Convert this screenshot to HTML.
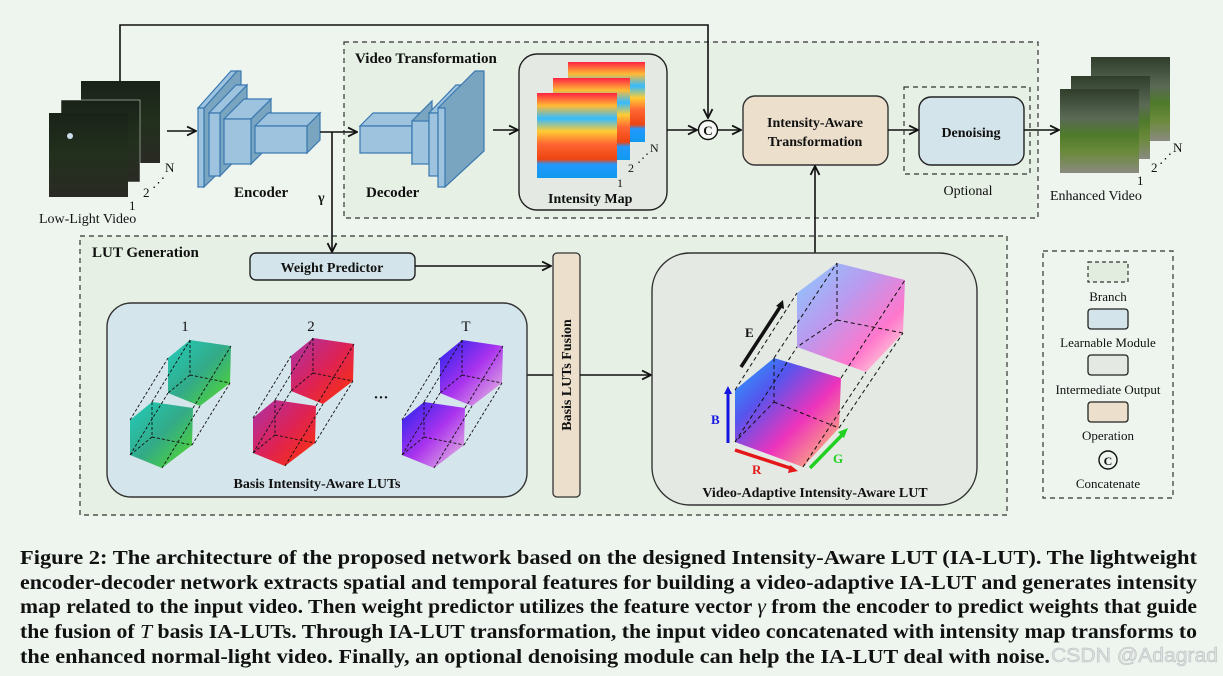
<!DOCTYPE html>
<html><head><meta charset="utf-8"><style>
html,body{margin:0;padding:0;background:#eef5ef;}
svg{display:block;}
.b{font-family:"Liberation Serif",serif;font-weight:bold;fill:#111;}
.r{font-family:"Liberation Serif",serif;fill:#111;}
</style></head><body>
<svg width="1223" height="676" viewBox="0 0 1223 676" xmlns="http://www.w3.org/2000/svg">
<defs>
<marker id="ar" viewBox="0 0 10 10" refX="9" refY="5" markerWidth="7" markerHeight="7" orient="auto"><path d="M1,1 L9,5 L1,9" fill="none" stroke="#111" stroke-width="1.6"/></marker>
<linearGradient id="heat" x1="0" y1="0" x2="0" y2="1">
<stop offset="0" stop-color="#f24"/><stop offset="0.15" stop-color="#fb3"/><stop offset="0.3" stop-color="#3bf"/><stop offset="0.45" stop-color="#fc3"/><stop offset="0.6" stop-color="#f63"/><stop offset="0.78" stop-color="#e41"/><stop offset="0.84" stop-color="#29f"/><stop offset="1" stop-color="#19e"/></linearGradient>
<linearGradient id="dark" x1="0" y1="0" x2="0" y2="1"><stop offset="0" stop-color="#1a2218"/><stop offset="0.5" stop-color="#22301d"/><stop offset="1" stop-color="#2a2a24"/></linearGradient>
<linearGradient id="light" x1="0" y1="0" x2="0" y2="1"><stop offset="0" stop-color="#2f3d2a"/><stop offset="0.35" stop-color="#5a6a55"/><stop offset="0.55" stop-color="#4f7a2a"/><stop offset="0.75" stop-color="#6a8a3a"/><stop offset="1" stop-color="#8a8a80"/></linearGradient>
<linearGradient id="g1" x1="0" y1="0" x2="1" y2="1"><stop offset="0" stop-color="#2cb"/><stop offset="0.5" stop-color="#3a8"/><stop offset="1" stop-color="#5d2"/></linearGradient>
<linearGradient id="g2" x1="0" y1="0" x2="1" y2="1"><stop offset="0" stop-color="#a3a"/><stop offset="0.5" stop-color="#d25"/><stop offset="1" stop-color="#f30"/></linearGradient>
<linearGradient id="g3" x1="0" y1="0" x2="1" y2="1"><stop offset="0" stop-color="#22e"/><stop offset="0.5" stop-color="#a3e"/><stop offset="1" stop-color="#ecd"/></linearGradient>
<linearGradient id="g4" x1="0" y1="0" x2="1" y2="1"><stop offset="0" stop-color="#2af"/><stop offset="0.3" stop-color="#55e"/><stop offset="0.6" stop-color="#e3b"/><stop offset="1" stop-color="#fd6"/></linearGradient>
<linearGradient id="g5" x1="0" y1="0" x2="1" y2="1"><stop offset="0" stop-color="#8cf"/><stop offset="0.4" stop-color="#b9e"/><stop offset="0.7" stop-color="#f7c"/><stop offset="1" stop-color="#ffd"/></linearGradient>
</defs>
<rect width="1223" height="676" fill="#eef5ef"/>

<rect x="344" y="42" width="694" height="176" fill="#e6f0e4" stroke="#333" stroke-width="1.2" stroke-dasharray="5,4"/>
<text x="355" y="63" class="b" font-size="15">Video Transformation</text>
<rect x="80" y="236" width="927" height="279" fill="#e6f0e4" stroke="#333" stroke-width="1.2" stroke-dasharray="5,4"/>
<text x="92" y="257" class="b" font-size="15">LUT Generation</text>

<polyline points="120,81 120,25 708,25 708,118" fill="none" stroke="#111" stroke-width="1.6" marker-end="url(#ar)"/>

<rect x="81" y="81" width="79" height="82" fill="url(#dark)"/>
<rect x="61" y="100" width="79" height="82" fill="url(#dark)" stroke="#eef5ef" stroke-width="0.5"/>
<rect x="49" y="113" width="79" height="84" fill="url(#dark)"/>
<circle cx="70" cy="136" r="3" fill="#cde"/>
<text x="129" y="210" class="r" font-size="13">1</text><text x="143" y="197" class="r" font-size="13">2</text>
<text x="152" y="187" class="r" font-size="13">⋰</text><text x="165" y="172" class="r" font-size="13">N</text>
<text x="39" y="223" class="r" font-size="14">Low-Light Video</text>
<line x1="167" y1="131" x2="196" y2="131" stroke="#111" stroke-width="1.6" marker-end="url(#ar)"/>

<g stroke="#3a78b0" stroke-width="1.2" fill="#9dc3df">
<polygon points="204,108 237,71 241,71 241,151 204,187" fill="#7aa5c0"/>
<polygon points="198,108 231,71 237,71 204,108" /><rect x="198" y="108" width="6" height="79"/>
<polygon points="220,113 247,85 247,148 220,176" fill="#7aa5c0"/>
<polygon points="209,113 236,85 247,85 220,113"/><rect x="209" y="113" width="11" height="63"/>
<polygon points="251,119 271,99 271,144 251,164" fill="#7aa5c0"/>
<polygon points="224,119 244,99 271,99 251,119"/><rect x="224" y="119" width="27" height="45"/>
<polygon points="307,126 320,113 320,140 307,153" fill="#7aa5c0"/>
<polygon points="255,126 268,113 320,113 307,126"/><rect x="255" y="126" width="52" height="27"/>
</g>
<text x="234" y="197" class="b" font-size="15">Encoder</text>
<text x="318" y="202" class="b" font-size="14">γ</text>
<line x1="320" y1="132" x2="357" y2="132" stroke="#111" stroke-width="1.6" marker-end="url(#ar)"/>
<line x1="332" y1="132" x2="332" y2="252" stroke="#111" stroke-width="1.6" marker-end="url(#ar)"/>

<g stroke="#3a78b0" stroke-width="1.2" fill="#9dc3df">
<polygon points="360,126 373,113 419,113 412,126"/><rect x="360" y="126" width="52" height="27"/>
<polygon points="412,121 432,101 432,144 412,164" fill="#7aa5c0"/><rect x="412" y="121" width="17" height="43"/>
<polygon points="429,113 456,85 462,85 438,113"/><rect x="429" y="113" width="9" height="63"/>
<polygon points="438,108 475,71 484,71 484,151 445,187" fill="#7aa5c0"/>
<rect x="438" y="108" width="7" height="79"/>
</g>
<text x="366" y="197" class="b" font-size="15">Decoder</text>
<line x1="493" y1="130" x2="518" y2="130" stroke="#111" stroke-width="1.6" marker-end="url(#ar)"/>

<rect x="519" y="54" width="148" height="156" rx="18" fill="#e4e9e4" stroke="#222" stroke-width="1.4"/>
<rect x="568" y="62" width="77" height="80" fill="url(#heat)"/>
<rect x="553" y="78" width="77" height="82" fill="url(#heat)"/>
<rect x="537" y="93" width="80" height="85" fill="url(#heat)"/>
<text x="617" y="187" class="r" font-size="12">1</text><text x="628" y="172" class="r" font-size="12">2</text>
<text x="637" y="162" class="r" font-size="12">⋰</text><text x="650" y="152" class="r" font-size="12">N</text>
<text x="548" y="203" class="b" font-size="14">Intensity Map</text>
<line x1="667" y1="130" x2="697" y2="130" stroke="#111" stroke-width="1.6" marker-end="url(#ar)"/>
<circle cx="708" cy="130" r="9.5" fill="#f6f8f6" stroke="#111" stroke-width="1.4"/>
<text x="708" y="135" class="b" font-size="13" text-anchor="middle">C</text>
<line x1="718" y1="130" x2="741" y2="130" stroke="#111" stroke-width="1.6" marker-end="url(#ar)"/>

<rect x="743" y="96" width="145" height="69" rx="12" fill="#ecdfcc" stroke="#333" stroke-width="1.4"/>
<text x="815" y="127" class="b" font-size="14" text-anchor="middle">Intensity-Aware</text>
<text x="815" y="146" class="b" font-size="14" text-anchor="middle">Transformation</text>
<line x1="888" y1="130" x2="918" y2="130" stroke="#111" stroke-width="1.6" marker-end="url(#ar)"/>
<rect x="904" y="87" width="126" height="87" fill="none" stroke="#333" stroke-width="1.2" stroke-dasharray="5,4"/>
<rect x="919" y="97" width="105" height="68" rx="12" fill="#d3e5ea" stroke="#222" stroke-width="1.4"/>
<text x="971" y="137" class="b" font-size="14" text-anchor="middle">Denoising</text>
<text x="968" y="195" class="r" font-size="14" text-anchor="middle">Optional</text>
<line x1="1024" y1="130" x2="1059" y2="130" stroke="#111" stroke-width="1.6" marker-end="url(#ar)"/>
<line x1="815" y1="255" x2="815" y2="166" stroke="#111" stroke-width="1.6" marker-end="url(#ar)"/>

<rect x="1091" y="57" width="79" height="84" fill="url(#light)"/>
<rect x="1071" y="76" width="79" height="83" fill="url(#light)"/>
<rect x="1060" y="89" width="79" height="84" fill="url(#light)"/>
<text x="1137" y="185" class="r" font-size="13">1</text><text x="1151" y="172" class="r" font-size="13">2</text>
<text x="1159" y="163" class="r" font-size="13">⋰</text><text x="1173" y="152" class="r" font-size="13">N</text>
<text x="1050" y="200" class="r" font-size="14">Enhanced Video</text>

<rect x="250" y="253" width="165" height="27" rx="6" fill="#d3e5ea" stroke="#222" stroke-width="1.4"/>
<text x="332" y="272" class="b" font-size="14" text-anchor="middle">Weight Predictor</text>
<line x1="415" y1="266" x2="551" y2="266" stroke="#111" stroke-width="1.6" marker-end="url(#ar)"/>
<rect x="553" y="253" width="27" height="244" rx="4" fill="#ecdfcc" stroke="#333" stroke-width="1.3"/>
<text transform="translate(571,375) rotate(-90)" class="b" font-size="14" text-anchor="middle">Basis LUTs Fusion</text>
<line x1="527" y1="375" x2="553" y2="375" stroke="#111" stroke-width="1.6"/>
<line x1="580" y1="375" x2="651" y2="375" stroke="#111" stroke-width="1.6" marker-end="url(#ar)"/>

<rect x="107" y="303" width="420" height="194" rx="24" fill="#d5e5ec" stroke="#333" stroke-width="1.4"/>
<text x="185" y="331" class="r" font-size="15" text-anchor="middle">1</text>
<text x="311" y="331" class="r" font-size="15" text-anchor="middle">2</text>
<text x="466" y="331" class="r" font-size="15" text-anchor="middle">T</text>
<text x="381" y="402" class="b" font-size="15" text-anchor="middle">···</text>
<g stroke="#111" stroke-width="0.9" stroke-dasharray="3,2">
<g transform="translate(130,420)">
<polygon points="38,-62 60,-80 101,-74 100,-37 70,-14 38,-27" fill="url(#g1)" stroke="none"/>
<polygon points="0,0 22,-18 63,-12 62,25 32,48 0,35" fill="url(#g1)" stroke="none"/>
<path d="M0,0 L38,-62 M22,-18 L60,-80 M63,-12 L101,-74 M62,25 L100,-37 M32,48 L70,-14 M0,35 L38,-27 M22,-18 V17 L0,35 M22,17 L62,25 M60,-80 V-45 L38,-27 M60,-45 L100,-37" fill="none"/>
</g>
<g transform="translate(253,418)">
<polygon points="38,-62 60,-80 101,-74 100,-37 70,-14 38,-27" fill="url(#g2)" stroke="none"/>
<polygon points="0,0 22,-18 63,-12 62,25 32,48 0,35" fill="url(#g2)" stroke="none"/>
<path d="M0,0 L38,-62 M22,-18 L60,-80 M63,-12 L101,-74 M62,25 L100,-37 M32,48 L70,-14 M0,35 L38,-27 M22,-18 V17 L0,35 M22,17 L62,25 M60,-80 V-45 L38,-27 M60,-45 L100,-37" fill="none"/>
</g>
<g transform="translate(402,420)">
<polygon points="38,-62 60,-80 101,-74 100,-37 70,-14 38,-27" fill="url(#g3)" stroke="none"/>
<polygon points="0,0 22,-18 63,-12 62,25 32,48 0,35" fill="url(#g3)" stroke="none"/>
<path d="M0,0 L38,-62 M22,-18 L60,-80 M63,-12 L101,-74 M62,25 L100,-37 M32,48 L70,-14 M0,35 L38,-27 M22,-18 V17 L0,35 M22,17 L62,25 M60,-80 V-45 L38,-27 M60,-45 L100,-37" fill="none"/>
</g>
</g>
<text x="317" y="488" class="b" font-size="14" text-anchor="middle">Basis Intensity-Aware LUTs</text>

<rect x="652" y="253" width="325" height="252" rx="38" fill="#e4e9e4" stroke="#333" stroke-width="1.4"/>
<g transform="translate(735,390)" stroke="#111" stroke-width="1" stroke-dasharray="4,3">
<polygon points="62,-97 102,-127 170,-110 168,-57 131,-18 62,-43" fill="url(#g5)" stroke="none"/>
<polygon points="0,0 39,-32 106,-12 104,38 68,77 0,52" fill="url(#g4)" stroke="none"/>
<path d="M0,0 L62,-97 M39,-32 L102,-127 M106,-12 L170,-110 M104,38 L168,-57 M68,77 L131,-18 M0,52 L62,-43 M39,-32 V12 L0,52 M39,12 L104,38 M102,-127 V-70 L62,-43 M102,-70 L168,-57" fill="none"/>
</g>
<line x1="741" y1="367" x2="782" y2="304" stroke="#111" stroke-width="3.5"/>
<polygon points="783,300 776,306 784,309" fill="#111"/>
<text x="745" y="337" class="b" font-size="13">E</text>
<line x1="728" y1="443" x2="728" y2="392" stroke="#1515e0" stroke-width="3"/><polygon points="728,386 724,394 732,394" fill="#1515e0"/>
<text x="711" y="424" class="b" font-size="13" style="fill:#1515e0">B</text>
<line x1="735" y1="450" x2="793" y2="469" stroke="#e41818" stroke-width="3.5"/><polygon points="798,471 790,465 788,473" fill="#e41818"/>
<text x="752" y="474" class="b" font-size="13" style="fill:#e41818">R</text>
<line x1="810" y1="468" x2="844" y2="433" stroke="#22d022" stroke-width="3.5"/><polygon points="848,428 838,432 844,438" fill="#22d022"/>
<text x="833" y="463" class="b" font-size="13" style="fill:#22d022">G</text>
<text x="815" y="497" class="b" font-size="14" text-anchor="middle">Video-Adaptive Intensity-Aware LUT</text>

<rect x="1043" y="251" width="130" height="247" fill="none" stroke="#333" stroke-width="1.2" stroke-dasharray="5,4"/>
<rect x="1088" y="262" width="40" height="20" fill="#e2ede0" stroke="#333" stroke-width="1.2" stroke-dasharray="4,3"/>
<text x="1108" y="301" class="r" font-size="13" text-anchor="middle">Branch</text>
<rect x="1088" y="309" width="40" height="20" rx="3" fill="#d3e5ea" stroke="#222" stroke-width="1.3"/>
<text x="1108" y="347" class="r" font-size="13" text-anchor="middle">Learnable Module</text>
<rect x="1088" y="355" width="40" height="20" rx="3" fill="#e4e9e4" stroke="#222" stroke-width="1.3"/>
<text x="1108" y="394" class="r" font-size="13" text-anchor="middle">Intermediate Output</text>
<rect x="1088" y="402" width="40" height="20" rx="3" fill="#ecdfcc" stroke="#222" stroke-width="1.3"/>
<text x="1108" y="440" class="r" font-size="13" text-anchor="middle">Operation</text>
<circle cx="1108" cy="460" r="9" fill="none" stroke="#111" stroke-width="1.4"/>
<text x="1108" y="465" class="b" font-size="12" text-anchor="middle">C</text>
<text x="1108" y="488" class="r" font-size="13" text-anchor="middle">Concatenate</text>

<g class="b" font-size="20">
<text x="20" y="564" textLength="1177" lengthAdjust="spacingAndGlyphs">Figure 2: The architecture of the proposed network based on the designed Intensity-Aware LUT (IA-LUT). The lightweight</text>
<text x="20" y="589" textLength="1177" lengthAdjust="spacingAndGlyphs">encoder-decoder network extracts spatial and temporal features for building a video-adaptive IA-LUT and generates intensity</text>
<text x="20" y="613" textLength="1177" lengthAdjust="spacingAndGlyphs">map related to the input video. Then weight predictor utilizes the feature vector <tspan font-style="italic" font-weight="normal">γ</tspan> from the encoder to predict weights that guide</text>
<text x="20" y="638" textLength="1177" lengthAdjust="spacingAndGlyphs">the fusion of <tspan font-style="italic" font-weight="normal">T</tspan> basis IA-LUTs. Through IA-LUT transformation, the input video concatenated with intensity map transforms to</text>
<text x="20" y="663" textLength="1030" lengthAdjust="spacingAndGlyphs">the enhanced normal-light video. Finally, an optional denoising module can help the IA-LUT deal with noise.</text>
</g>
<text x="1051" y="662" font-family="Liberation Sans,sans-serif" font-size="20" fill="#dde1e1" stroke="#b8bcbc" stroke-width="0.5" textLength="167" lengthAdjust="spacingAndGlyphs">CSDN @Adagrad</text>
</svg>
</body></html>
